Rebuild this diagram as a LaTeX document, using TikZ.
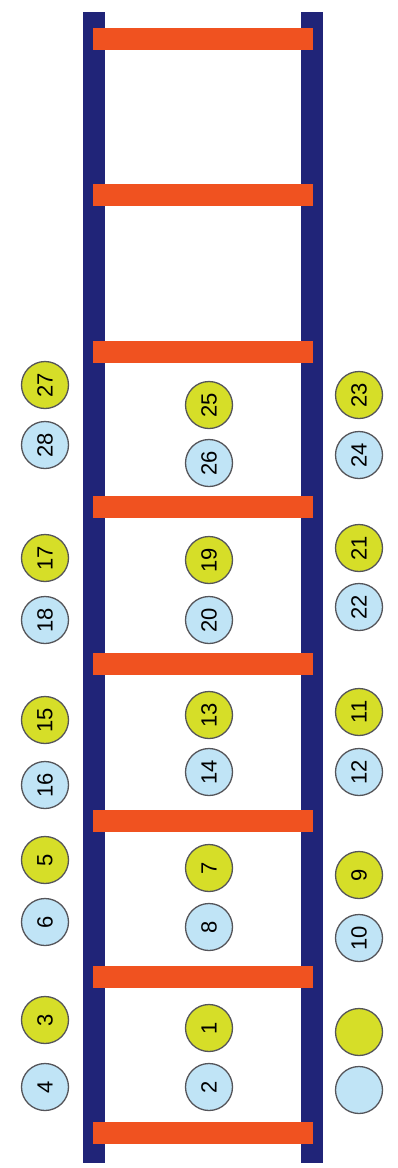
\documentclass[tikz,border=0pt]{standalone}
\usepackage{fontspec}
\setmainfont{Liberation Sans}
\definecolor{postc}{RGB}{32,36,120}
\definecolor{rungc}{RGB}{240,82,32}
\definecolor{yelc}{RGB}{214,222,40}
\definecolor{bluc}{RGB}{192,228,246}
\definecolor{edgec}{RGB}{85,85,90}
\tikzset{
  post/.style={fill=postc,draw=none},
  rung/.style={fill=rungc,draw=none},
  ball/.style={circle,draw=edgec,line width=1.3pt,minimum size=47pt,inner sep=0pt,
    font=\fontsize{22}{22}\selectfont,rotate=90},
  yball/.style={ball,fill=yelc},
  bball/.style={ball,fill=bluc}
}
\begin{document}
\begin{tikzpicture}[x=1pt,y=-1pt]
\useasboundingbox (0,0) rectangle (398,1168);
% posts
\fill[post] (83,12) rectangle (105,1163);
\fill[post] (301,12) rectangle (323,1163);
% rungs
\foreach \yy in {39,195,352,507,664,821,977,1133}
  \fill[rung] (93,\yy-11) rectangle (313,\yy+11);
% left column
\node[yball] (n27) at (45,385) {27};
\node[bball] (n28) at (45,445) {28};
\node[yball] (n17) at (45,558) {17};
\node[bball] (n18) at (45,620) {18};
\node[yball] (n15) at (45,720) {15};
\node[bball] (n16) at (45,785) {16};
\node[yball] (n5) at (45,860) {5};
\node[bball] (n6) at (45,922) {6};
\node[yball] (n3) at (45,1020) {3};
\node[bball] (n4) at (45,1087) {4};
% middle column
\node[yball] (n25) at (209,405) {25};
\node[bball] (n26) at (209,463) {26};
\node[yball] (n19) at (209,560) {19};
\node[bball] (n20) at (209,620) {20};
\node[yball] (n13) at (209,715) {13};
\node[bball] (n14) at (209,772) {14};
\node[yball] (n7) at (209,868) {7};
\node[bball] (n8) at (209,927) {8};
\node[yball] (n1) at (209,1028) {1};
\node[bball] (n2) at (209,1087) {2};
% right column
\node[yball] (n23) at (359,395) {23};
\node[bball] (n24) at (359,455) {24};
\node[yball] (n21) at (359,548) {21};
\node[bball] (n22) at (359,607) {22};
\node[yball] (n11) at (359,712) {11};
\node[bball] (n12) at (359,772) {12};
\node[yball] (n9) at (359,875) {9};
\node[bball] (n10) at (359,938) {10};
\node[yball] (ny) at (359,1032) {};
\node[bball] (nb) at (359,1090) {};
\end{tikzpicture}
\end{document}
